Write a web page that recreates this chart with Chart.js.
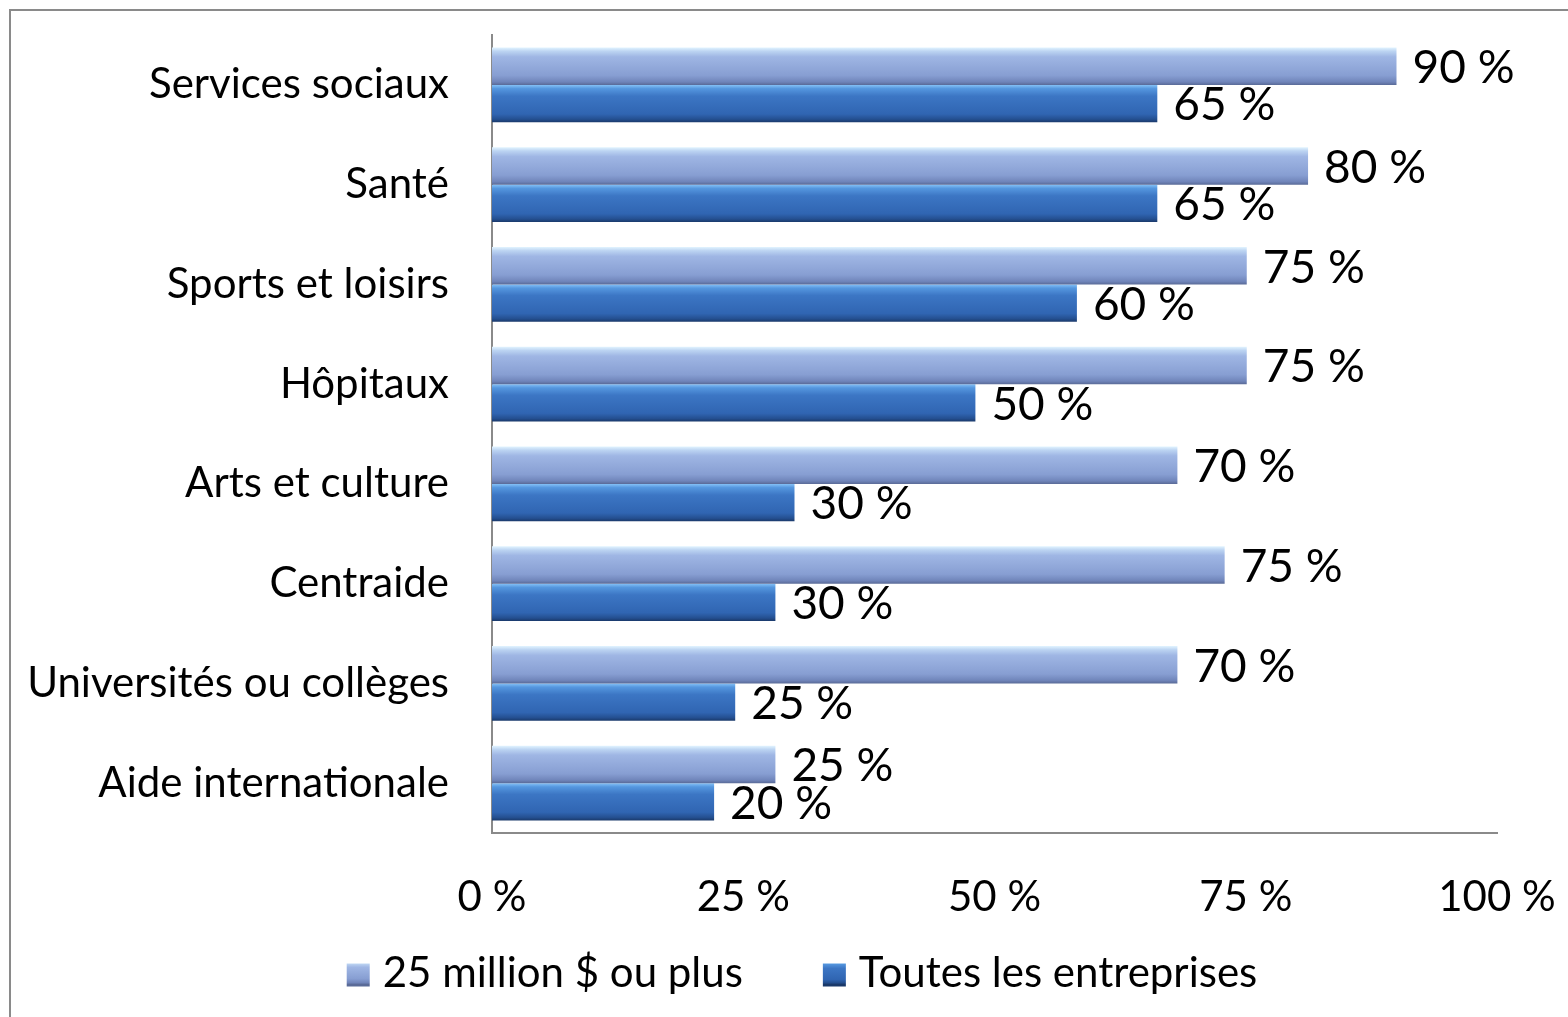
<!DOCTYPE html>
<html>
<head>
<meta charset="utf-8">
<script src="https://cdn.jsdelivr.net/npm/chart.js@4.4.0/dist/chart.umd.min.js"></script>
<style>
  html, body { margin: 0; padding: 0; background: #fff; }
  #wrap { position: relative; width: 1568px; height: 1017px; overflow: hidden; }
  #frame { position: absolute; left: 9px; top: 9px; right: -5px; bottom: -5px; border: 2px solid #8a8a8a; }
  canvas { position: absolute; left: 0; top: 0; }
</style>
</head>
<body>
<div id="wrap">
  <div id="frame"></div>
  <canvas id="chart" width="1568" height="1017"></canvas>
</div>
<script>
// Data
const categories = ['Services sociaux', 'Santé', 'Sports et loisirs', 'Hôpitaux',
  'Arts et culture', 'Centraide', 'Universités ou collèges', 'Aide internationale'];
const seriesNames = ['25 million $ ou plus', 'Toutes les entreprises'];
const bigFirms = [90.0, 81.2, 75.1, 75.1, 68.2, 72.9, 68.2, 28.2];
const allFirms = [66.2, 66.2, 58.2, 48.1, 30.1, 28.2, 24.2, 22.1];
const bigFirmsLabels = ['90 %', '80 %', '75 %', '75 %', '70 %', '75 %', '70 %', '25 %'];
const allFirmsLabels = ['65 %', '65 %', '60 %', '50 %', '30 %', '30 %', '25 %', '20 %'];
const xTicks = [0, 25, 50, 75, 100];

const catPct = 0.75;

const lightStops = [[0, '#e2f4ff'], [0.1, '#bcd4f2'], [0.25, '#9fb6e4'], [0.75, '#879ed2'], [0.92, '#7085ba'], [1, '#5a6b98']];
const darkStops = [[0, '#86c2f7'], [0.1, '#5597df'], [0.3, '#3c76c4'], [0.78, '#3065b2'], [0.92, '#244f90'], [1, '#1a396a']];

function gradient(ctx, top, bottom, stops) {
  const g = ctx.createLinearGradient(0, top, 0, bottom);
  stops.forEach(s => g.addColorStop(s[0], s[1]));
  return g;
}

// vertical "glossy" gradient for each bar, computed from the category scale
function barFill(stops, solid) {
  return function(c) {
    const chart = c.chart;
    const y = chart.scales.y;
    if (!y || c.dataIndex === undefined || !chart.chartArea) return solid;
    const center = y.getPixelForValue(c.dataIndex);
    const half = (y.height / categories.length) * catPct / 2;
    const top = c.datasetIndex === 0 ? center - half : center;
    return gradient(chart.ctx, top, top + half, stops);
  };
}

const valueLabels = {
  id: 'valueLabels',
  afterDatasetsDraw(chart) {
    const ctx = chart.ctx;
    const texts = [bigFirmsLabels, allFirmsLabels];
    ctx.save();
    ctx.font = '46px Lato';
    ctx.fillStyle = '#000';
    ctx.textAlign = 'left';
    ctx.textBaseline = 'middle';
    chart.data.datasets.forEach((ds, di) => {
      chart.getDatasetMeta(di).data.forEach((bar, i) => {
        ctx.fillText(texts[di][i], bar.x + 16, bar.y + 2);
      });
    });
    ctx.restore();
  }
};

// legend drawn below the axis, centred like the original
const bottomLegend = {
  id: 'bottomLegend',
  afterDraw(chart) {
    const ctx = chart.ctx;
    const box = 23, gap = 13, itemGap = 80, cy = 973, center = 802;
    const stops = [lightStops, darkStops];
    ctx.save();
    ctx.font = '42px Lato';
    ctx.textBaseline = 'middle';
    const items = chart.data.datasets.map(ds => ({ text: ds.label, w: ctx.measureText(ds.label).width }));
    const total = items.reduce((s, it) => s + box + gap + it.w, 0) + itemGap * (items.length - 1);
    let x = center - total / 2;
    items.forEach((it, i) => {
      ctx.fillStyle = gradient(ctx, cy - box / 2, cy + box / 2, stops[i]);
      ctx.fillRect(x, cy - box / 2 + 2, box, box);
      x += box + gap;
      ctx.fillStyle = '#000';
      ctx.fillText(it.text, x, cy);
      x += it.w + itemGap;
    });
    ctx.restore();
  }
};

Chart.defaults.font.family = 'Lato';
Chart.defaults.color = '#000';

new Chart(document.getElementById('chart').getContext('2d'), {
  type: 'bar',
  data: {
    labels: categories,
    datasets: [{
      label: seriesNames[0],
      data: bigFirms,
      backgroundColor: barFill(lightStops, '#8ea5d6'),
      categoryPercentage: catPct,
      barPercentage: 1.0
    }, {
      label: seriesNames[1],
      data: allFirms,
      backgroundColor: barFill(darkStops, '#3269b6'),
      categoryPercentage: catPct,
      barPercentage: 1.0
    }]
  },
  options: {
    indexAxis: 'y',
    responsive: false,
    animation: false,
    layout: {
      padding: { top: 35, right: 71, bottom: 84, left: 0 }
    },
    plugins: {
      tooltip: { enabled: false },
      legend: { display: false }
    },
    scales: {
      x: {
        min: 0,
        max: 100,
        afterBuildTicks: function(scale) {
          scale.ticks = xTicks.map(v => ({ value: v }));
        },
        afterFit: function(scale) {
          scale.height = 100;
          scale.paddingLeft = 0;
          scale.paddingRight = 0;
        },
        grid: { display: false, drawTicks: false },
        border: { display: true, color: '#8a8a8a', width: 2 },
        ticks: {
          padding: 39,
          font: { size: 42 },
          color: '#000',
          callback: v => v + ' %'
        }
      },
      y: {
        afterFit: function(scale) {
          scale.width = 492;
          scale.paddingTop = 0;
          scale.paddingBottom = 0;
        },
        grid: { display: false, drawTicks: false },
        border: { display: true, color: '#8a8a8a', width: 2 },
        ticks: {
          padding: 43,
          font: { size: 42 },
          color: '#000'
        }
      }
    }
  },
  plugins: [valueLabels, bottomLegend]
});
</script>
</body>
</html>
